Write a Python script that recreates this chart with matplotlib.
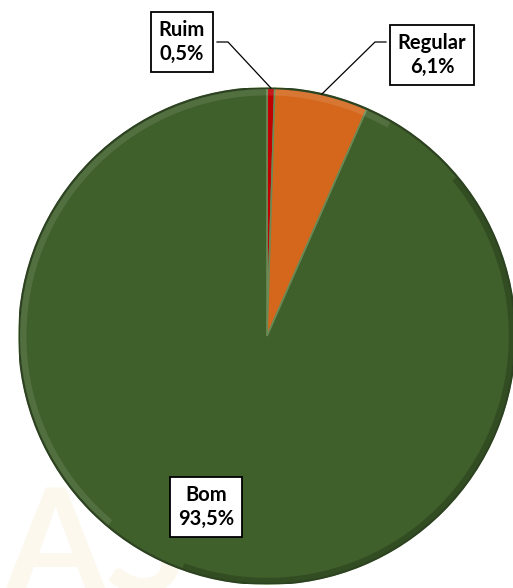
import matplotlib.pyplot as plt
import numpy as np
from matplotlib.patches import Wedge

# data
labels = ['Ruim', 'Regular', 'Bom']
pct_text = ['0,5%', '6,1%', '93,5%']
values = [0.5, 6.1, 93.5]
colors = ['#c00000', '#d4671c', '#3f5f2b']

plt.rcParams['font.family'] = ['Lato', 'DejaVu Sans']

W, H = 513, 588
fig = plt.figure(figsize=(W / 100, H / 100), dpi=100)

# faint watermark behind the pie
fig.text(0.01, -0.05, 'AS', fontsize=105, fontweight='bold', color='#fcf8ee',
         ha='left', va='bottom', zorder=-1)

# pie centre (267, 336) px from top, radius 248 px
cx, cy, r = 267, 336, 248
ax = fig.add_axes([(cx - r) / W, (H - cy - r) / H, 2 * r / W, 2 * r / H])
ax.patch.set_visible(False)

wedges, _ = ax.pie(values, colors=colors, startangle=90, counterclock=False,
                   radius=1.0, wedgeprops=dict(edgecolor='#6b8a55', linewidth=1.2))

# soft bevel: light band on the upper-left rim, shade on the lower-right
ax.add_patch(Wedge((0, 0), 1.0, 60, 230, width=0.03, facecolor='white',
                   alpha=0.10, linewidth=0))
ax.add_patch(Wedge((0, 0), 1.0, 250, 40, width=0.025, facecolor='black',
                   alpha=0.18, linewidth=0))
# darker rim
ax.add_patch(Wedge((0, 0), 1.0, 0, 360, fill=False, edgecolor='#2c4220',
                   linewidth=1.6))
ax.set_xlim(-1.0, 1.0)
ax.set_ylim(-1.0, 1.0)
ax.set_aspect('equal')
ax.axis('off')

box = dict(boxstyle='square,pad=0.4', facecolor='white', edgecolor='black', linewidth=1.3)
txt_pos = {'Ruim': (182, 42), 'Regular': (432, 55), 'Bom': (206, 507)}
elbow = {'Ruim': ((217, 42), (228, 42)), 'Regular': ((386, 42), (375, 42))}

to_fig = lambda p: (p[0] / W, 1 - p[1] / H)

for w, lab, pt in zip(wedges, labels, pct_text):
    x, y = to_fig(txt_pos[lab])
    fig.text(x, y, f'{lab}\n{pt}', ha='center', va='center', fontsize=14.5,
             fontweight='bold', linespacing=1.3, bbox=box, zorder=5)
    if lab in elbow:
        ang = np.deg2rad((w.theta1 + w.theta2) / 2)
        disp = ax.transData.transform((np.cos(ang), np.sin(ang)))
        ex, ey = fig.transFigure.inverted().transform(disp)
        (ax0, ay0), (ax1, ay1) = [to_fig(p) for p in elbow[lab]]
        fig.add_artist(plt.Line2D([ax0, ax1, ex], [ay0, ay1, ey],
                                  transform=fig.transFigure, color='black',
                                  linewidth=0.9, zorder=4))

plt.savefig('out.png', dpi=100)
